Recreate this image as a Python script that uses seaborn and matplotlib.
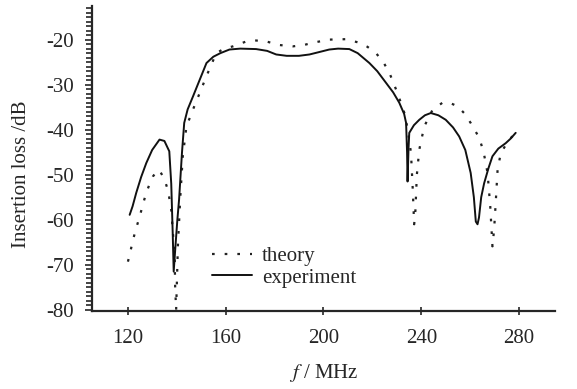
import numpy as np
import pandas as pd
import seaborn as sns
import matplotlib.pyplot as plt
from matplotlib.ticker import MultipleLocator

# data (f in MHz, insertion loss in dB)
exp_f = [120.8, 122.0, 123.5, 125.5, 127.6, 130.0, 133.0, 135.0, 137.0, 137.8,
         138.4, 138.8, 139.5, 140.3, 141.0, 142.2, 143.1, 144.5, 146.7, 149.0,
         152.2, 155.0, 157.9, 161.6, 166.0, 172.5, 177.0, 180.7, 185.0, 190.0,
         194.3, 198.0, 202.4, 206.0, 210.6, 214.0, 218.8, 222.0, 225.6, 228.5,
         231.0, 233.0, 233.8, 234.2, 234.4, 234.8, 235.1, 237.0, 239.2, 241.5,
         243.9, 247.0, 250.0, 253.0, 255.5, 258.0, 260.2, 261.5, 262.3, 263.0,
         263.6, 264.5, 265.7, 267.5, 269.1, 271.5, 274.5, 276.5, 278.6]
exp_db = [-58.9, -57.0, -54.0, -50.5, -47.4, -44.5, -42.2, -42.5, -44.8, -52.0,
          -63.0, -71.5, -66.0, -60.0, -55.5, -45.0, -38.5, -35.5, -32.6, -29.5,
          -25.2, -23.8, -23.0, -22.2, -22.0, -22.1, -22.5, -23.3, -23.6, -23.6,
          -23.3, -22.8, -22.2, -22.0, -22.1, -23.0, -25.2, -27.0, -29.6, -31.7,
          -34.0, -36.5, -38.5, -45.0, -51.5, -44.0, -40.7, -39.0, -37.8, -36.8,
          -36.3, -36.8, -37.8, -39.5, -41.5, -44.5, -49.6, -55.0, -60.4, -61.0,
          -59.5, -55.0, -51.9, -48.5, -45.9, -44.2, -43.0, -42.0, -40.7]

th_f = [120.1, 121.2, 122.2, 123.5, 124.9, 126.2, 127.6, 129.0, 130.3, 131.5,
        132.4, 133.5, 135.0, 136.5, 137.8, 138.5, 139.2, 139.4, 139.8, 140.5,
        141.5, 142.5, 144.0, 146.7, 149.4, 152.2, 156.2, 159.5, 163.0, 168.5,
        172.5, 176.6, 182.0, 187.5, 192.0, 195.6, 202.4, 209.3, 214.7, 218.0,
        221.5, 224.5, 227.0, 230.3, 233.1, 234.5, 235.8, 236.5, 237.1, 237.6,
        238.2, 239.2, 241.2, 244.6, 248.7, 251.5, 254.8, 257.5, 260.2, 263.7,
        265.5, 267.1, 268.2, 269.1, 269.8, 270.5, 271.2, 272.5, 275.9, 279.3]
th_db = [-69.3, -66.8, -64.4, -61.8, -59.3, -56.6, -54.0, -52.0, -50.4, -49.5,
         -48.9, -49.5, -51.0, -53.5, -57.8, -63.0, -68.0, -75.0, -80.0, -66.0,
         -55.0, -46.0, -39.3, -35.5, -31.9, -28.1, -23.0, -22.0, -21.5, -20.4,
         -20.2, -20.4, -21.2, -21.5, -21.2, -20.7, -20.0, -19.9, -20.7, -21.6,
         -23.0, -25.0, -27.4, -31.9, -36.3, -40.0, -45.2, -53.0, -61.0, -58.0,
         -50.0, -44.4, -39.3, -35.6, -34.0, -34.0, -34.8, -36.3, -38.5, -41.8,
         -45.0, -49.6, -57.0, -65.9, -62.0, -55.6, -48.9, -45.2, -42.2, -40.4]

x_ticks = [120, 160, 200, 240, 280]
y_ticks = [-80, -70, -60, -50, -40, -30, -20]

sns.set_style("ticks")
plt.rcParams["font.family"] = ["Liberation Serif", "DejaVu Serif"]
plt.rcParams["mathtext.fontset"] = "stix"
plt.rcParams["axes.unicode_minus"] = False

fs = 15

fig = plt.figure(figsize=(5.77, 3.89), dpi=100)
ax = fig.add_axes([0.159, 0.2, 0.803, 0.785])

sns.lineplot(x=th_f, y=th_db, ax=ax, sort=False, color="#222222",
             linewidth=1.6, linestyle=(0, (1.2, 4.5)), label="theory")
sns.lineplot(x=exp_f, y=exp_db, ax=ax, sort=False, color="#111111",
             linewidth=1.4, label="experiment")

ax.set_xlim(105.3, 294.7)
ax.set_ylim(-80.3, -12.5)
ax.set_xticks(x_ticks)
ax.set_yticks(y_ticks)
ax.yaxis.set_minor_locator(MultipleLocator(1))
ax.tick_params(axis="both", which="major", labelsize=fs, width=1.2, length=5)
ax.tick_params(axis="y", which="major", pad=8)
ax.tick_params(axis="y", which="minor", width=1.2, length=4)
ax.tick_params(axis="x", which="major", direction="inout", length=6, pad=10)
for s in ["left", "bottom"]:
    ax.spines[s].set_linewidth(1.6)
sns.despine(ax=ax)

ax.set_xlabel(r"$f$ / MHz", fontsize=fs, labelpad=10)
ax.set_ylabel("Insertion loss /dB", fontsize=fs)
ax.yaxis.set_label_coords(-0.132, 0.45)

ax.legend(loc="lower left", bbox_to_anchor=(0.242, 0.05), frameon=False,
          fontsize=fs, handlelength=1.9, handletextpad=0.5,
          labelspacing=0.1, borderaxespad=0)

plt.savefig("out.png", dpi=100)
